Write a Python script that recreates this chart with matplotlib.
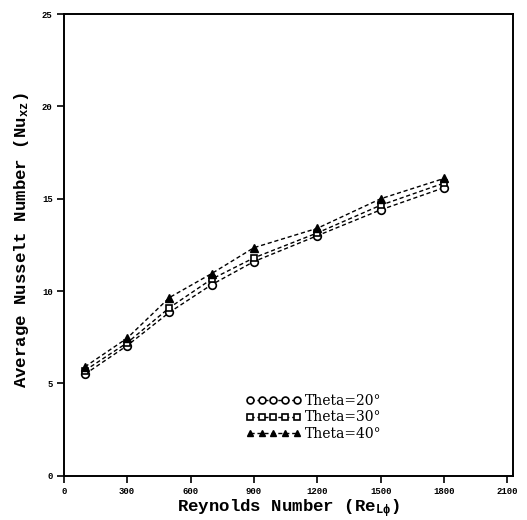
import matplotlib
matplotlib.use("Agg")
import matplotlib.pyplot as plt

reynolds = [100, 300, 500, 700, 900, 1200, 1500, 1800]
nu_theta20 = [5.5, 7.05, 8.85, 10.35, 11.6, 13.0, 14.4, 15.6]
nu_theta30 = [5.7, 7.2, 9.1, 10.65, 11.8, 13.15, 14.65, 15.85]
nu_theta40 = [5.9, 7.45, 9.65, 10.95, 12.35, 13.4, 15.0, 16.1]
labels = ["Theta=20°", "Theta=30°", "Theta=40°"]
xticks = [0, 300, 600, 900, 1200, 1500, 1800, 2100]
yticks = [0, 5, 10, 15, 20, 25]

plt.rcParams["mathtext.fontset"] = "custom"
plt.rcParams["mathtext.rm"] = "Liberation Mono:bold"
plt.rcParams["mathtext.it"] = "Liberation Mono:bold"
plt.rcParams["mathtext.bf"] = "Liberation Mono:bold"

fig = plt.figure(figsize=(5.27, 5.20), dpi=100)
ax = fig.add_axes([0.121, 0.085, 0.852, 0.888])

ax.plot(reynolds, nu_theta20, "k--", lw=1.0, dashes=(3, 2), marker="o", ms=5.5,
        mfc="white", mec="black", mew=1.2, label=labels[0])
ax.plot(reynolds, nu_theta30, "k--", lw=1.0, dashes=(3, 2), marker="s", ms=4.5,
        mfc="white", mec="black", mew=1.2, label=labels[1])
ax.plot(reynolds, nu_theta40, "k--", lw=1.0, dashes=(3, 2), marker="^", ms=5.5,
        mfc="black", mec="black", mew=1.0, label=labels[2])

ax.set_xlim(0, 2125)
ax.set_ylim(0, 25)
ax.set_xticks(xticks)
ax.set_yticks(yticks)
ax.tick_params(direction="out", length=5, width=1.2, labelsize=6.5, pad=3)
for t in ax.get_xticklabels() + ax.get_yticklabels():
    t.set_fontweight("bold")
    t.set_family("Liberation Mono")
for s in ax.spines.values():
    s.set_linewidth(1.4)

ax.set_xlabel("Reynolds Number (Re$_{L\\phi}$)", family="Liberation Mono",
              fontweight="bold", fontsize=12.5, labelpad=1)
ax.set_ylabel("Average Nusselt Number (Nu$_{xz}$)", family="Liberation Mono",
              fontweight="bold", fontsize=12.5)
ax.yaxis.set_label_coords(-0.073, 0.51)

leg = ax.legend(loc="lower left", bbox_to_anchor=(0.405, 0.075), numpoints=5,
                handlelength=4.0, handletextpad=0.3, labelspacing=0.2,
                borderpad=0, borderaxespad=0, markerscale=0.9,
                frameon=False, prop={"family": "DejaVu Serif", "size": 10})

fig.savefig("out.png", dpi=100)
